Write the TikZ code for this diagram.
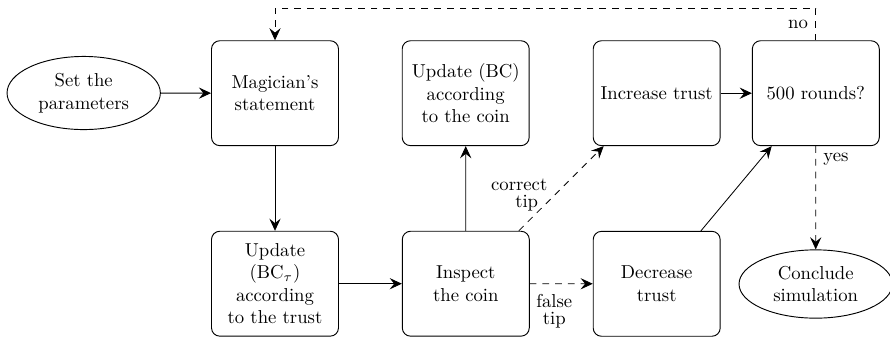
\documentclass[tikz,border=0pt]{standalone}
\usetikzlibrary{arrows.meta,shapes.geometric}
\begin{document}
\begin{tikzpicture}[x=0.5348pt,y=-0.5348pt,
  box/.style={draw,rounded corners=4.4pt,line width=0.5pt,minimum width=67.9pt,minimum height=56.1pt,align=center,inner sep=2pt},
  oval/.style={draw,ellipse,line width=0.5pt,minimum width=82pt,align=center},
  conn/.style={line width=0.45pt,-{Stealth[length=6.5pt,width=6pt,inset=2.4pt]}},
  dsh/.style={dash pattern=on 3.6pt off 3.2pt},
  lbl/.style={inner sep=1pt,align=center}]
\useasboundingbox (0,0) rectangle (890,337);
\node[oval] (params) at (83.7,93) {Set the\\parameters};
\node[box] (mag) at (275,93.2) {Magician's\\statement};
\node[box] (upbc) at (465.7,93.2) {Update (BC)\\according\\to the coin};
\node[box] (inc) at (656.7,93.2) {Increase trust};
\node[box] (rounds) at (815.8,93.2) {500 rounds?};
\node[box] (uptau) at (275,283.7) {Update\\(BC$_\tau$)\\according\\to the trust};
\node[box] (insp) at (465.8,283.7) {Inspect\\the coin};
\node[box] (dec) at (656.7,283.8) {Decrease\\trust};
\node[oval] (concl) at (815.7,284) {Conclude\\simulation};
\coordinate (top) at (0,8.3);
\draw[conn] (params) -- (mag);
\draw[conn] (mag) -- (uptau);
\draw[conn] (uptau) -- (insp);
\draw[conn] (insp) -- (upbc);
\draw[conn,dsh] (insp) -- node[lbl,pos=0.42,anchor=east,xshift=-2.6pt] {correct\\[-3pt]\hspace*{8pt}tip} (inc);
\draw[conn,dsh] (insp) -- node[lbl,pos=0.39,below=4.5pt] {false\\[-3pt]tip} (dec);
\draw[conn] (inc) -- (rounds);
\draw[conn] (dec) -- (rounds);
\draw[conn,dsh] (rounds.north) -- node[lbl,left,inner sep=4pt,pos=0.5] {no} (rounds.north |- top) -| (mag.north);
\draw[conn,dsh] (rounds) -- node[lbl,right,inner sep=3.9pt,pos=0.13] {yes} (concl);
\end{tikzpicture}
\end{document}
